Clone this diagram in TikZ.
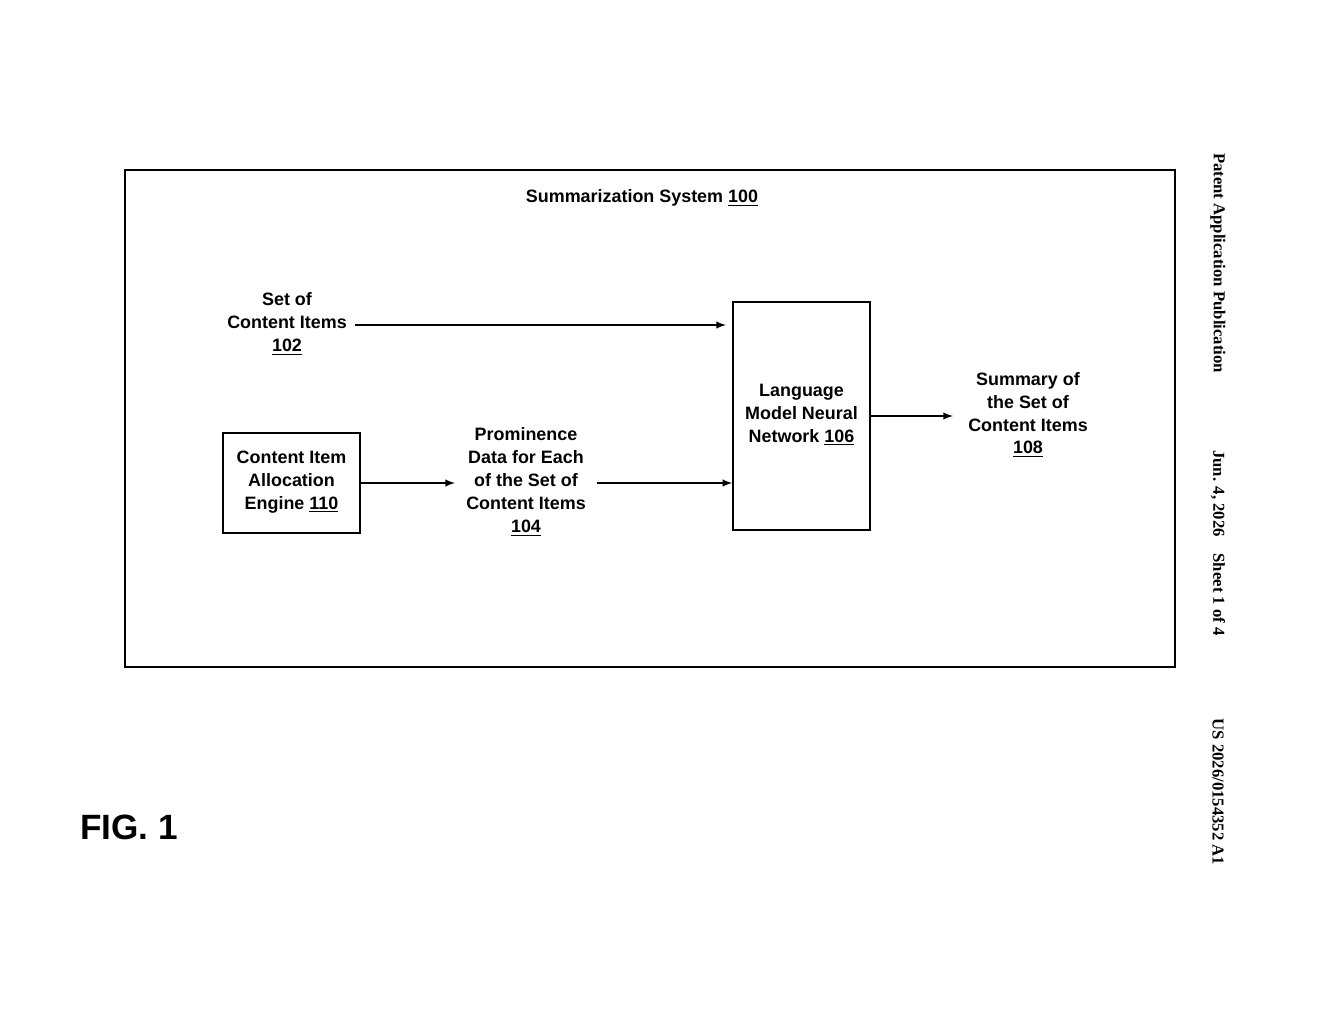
\documentclass[tikz,border=0pt]{standalone}
\usepackage{fontspec}
\setmainfont{Liberation Sans}
\newfontfamily\serifbf{Liberation Serif}
\begin{document}
\begin{tikzpicture}[x=0.02cm,y=-0.02cm,
  lbl/.style={font=\bfseries\fontsize{10.2}{13}\selectfont,align=center,inner sep=0pt},
  box/.style={draw,line width=0.9pt},
  arr/.style={-latex,line width=0.9pt},
  side/.style={font=\serifbf\bfseries\fontsize{9.5}{11}\selectfont,rotate=-90,inner sep=0pt}]
\useasboundingbox (0,0) rectangle (1320,1024);
\draw[box] (125,170) rectangle (1175,667);
\node[lbl] (title) at (642,198) {Summarization System \underline{100}};
\node[box,minimum width=137*0.02cm,minimum height=228*0.02cm] (lm) at (801.5,416) {};
\node[lbl] (lmt) at (801.5,415) {Language\\Model Neural\\Network \underline{106}};
\node[box,minimum width=137*0.02cm,minimum height=100*0.02cm] (eng) at (291.5,483) {};
\node[lbl] at (291.5,482) {Content Item\\Allocation\\Engine \underline{110}};
\node[lbl] (set) at (287,324) {Set of\\Content Items\\\underline{102}};
\node[lbl] (prom) at (526,482) {Prominence\\Data for Each\\of the Set of\\Content Items\\\underline{104}};
\node[lbl] (sum) at (1028,415) {Summary of\\the Set of\\Content Items\\\underline{108}};
\coordinate (a1) at (355,325); \coordinate (a1e) at (726,325);
\draw[arr] (a1) -- (a1e);
\draw[arr] (eng.east) -- (455,483);
\coordinate (p1) at (597,483);
\draw[arr] (p1) -- (lm.west |- p1);
\draw[arr] (lm.east |- 0,416) -- (953,416);
\node[font=\bfseries\fontsize{20}{24}\selectfont,inner sep=0pt] (fig) at (129,827) {FIG. 1};
\node[side] (s1) at (1218,263) {Patent Application Publication};
\node[side] (s2) at (1218,543) {Jun. 4, 2026\quad Sheet 1 of 4};
\node[side] (s3) at (1218,792) {US 2026/0154352 A1};
\end{tikzpicture}
\end{document}
